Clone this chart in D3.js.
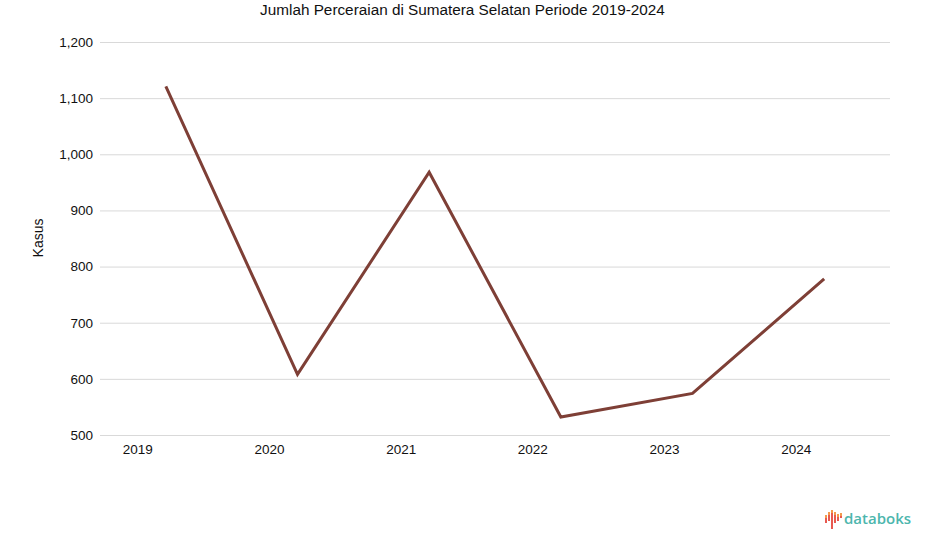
<!DOCTYPE html>
<html>
<head>
<meta charset="utf-8">
<script src="https://cdn.jsdelivr.net/npm/d3@7"></script>
<style>
    body { margin: 0; background: #fff; }
    text { font-family: "Liberation Sans", Arial, sans-serif; }
</style>
</head>
<body>
<script>
'use strict';

// data
const years = ['2019', '2020', '2021', '2022', '2023', '2024'];
const cases = [1121, 608, 968, 532, 574, 778];
const yTicks = [500, 600, 700, 800, 900, 1000, 1100, 1200];

(function () {
    const width = 925;
    const height = 547;
    const margin = { top: 42, right: 35, bottom: 112, left: 100 };

    const svg = d3.select('body').append('svg')
        .attr('width', width)
        .attr('height', height);

    // scales
    const xscale = d3.scaleBand()
        .domain(years)
        .range([margin.left, width - margin.right]);
    const yscale = d3.scaleLinear()
        .domain([500, 1200])
        .range([height - margin.bottom, margin.top]);

    // title
    svg.append('text')
        .attr('x', width / 2)
        .attr('y', 15)
        .attr('text-anchor', 'middle')
        .style('font-size', '15.3px')
        .style('fill', '#111')
        .text('Jumlah Perceraian di Sumatera Selatan Periode 2019-2024');

    // y axis with gridlines
    const yAxis = svg.append('g')
        .attr('transform', 'translate(' + margin.left + ',0)')
        .call(d3.axisLeft(yscale)
            .tickValues(yTicks)
            .tickSize(-(width - margin.left - margin.right))
            .tickPadding(7)
            .tickFormat(d3.format(',')));
    yAxis.select('.domain').remove();
    yAxis.selectAll('line').attr('stroke', '#d9d9d9');
    yAxis.selectAll('text')
        .style('font-size', '13.5px')
        .style('fill', '#111');

    // x axis labels
    const xAxis = svg.append('g')
        .attr('transform', 'translate(-28,' + (height - margin.bottom) + ')')
        .call(d3.axisBottom(xscale).tickSize(0).tickPadding(9));
    xAxis.select('.domain').remove();
    xAxis.selectAll('text')
        .style('font-size', '13.5px')
        .style('fill', '#111');

    // y label
    svg.append('text')
        .attr('transform', 'translate(43,238) rotate(-90)')
        .attr('text-anchor', 'middle')
        .style('font-size', '14px')
        .style('fill', '#111')
        .text('Kasus');

    // line
    const line = d3.line()
        .x((d, i) => xscale(years[i]) + xscale.bandwidth() / 2)
        .y(d => yscale(d));

    svg.append('path')
        .datum(cases)
        .attr('d', line)
        .attr('fill', 'none')
        .attr('stroke', '#7e3f36')
        .attr('stroke-width', 3)
        .attr('stroke-linejoin', 'miter');

    // databoks logo
    const logo = svg.append('g').attr('transform', 'translate(825,510)');
    // [x, top, orange length, red length]
    const bars = [[0, 5, 3, 5], [3, 2, 3, 6], [6, 0, 3, 16], [9, 2, 3, 8], [12, 4, 3, 4], [15, 3, 3, 2]];
    bars.forEach(function (b) {
        logo.append('rect')
            .attr('x', b[0]).attr('y', b[1])
            .attr('width', 2).attr('height', b[2])
            .attr('fill', '#f39a4c');
        logo.append('rect')
            .attr('x', b[0]).attr('y', b[1] + b[2])
            .attr('width', 2).attr('height', b[3])
            .attr('fill', '#e8594f');
    });
    svg.append('text')
        .attr('x', 844)
        .attr('y', 524)
        .style('font-size', '15px')
        .style('font-family', '"Open Sans", sans-serif')
        .style('font-weight', '600')
        .style('fill', '#4db6ad')
        .text('databoks');
})();
</script>
</body>
</html>
